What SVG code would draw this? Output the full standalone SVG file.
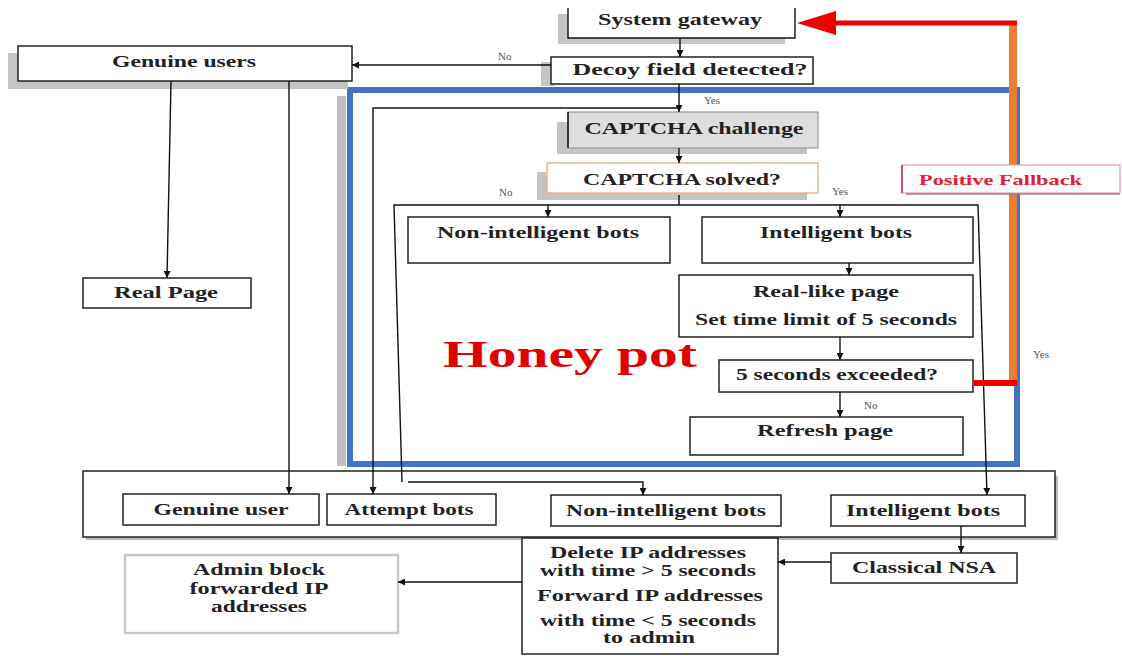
<svg xmlns="http://www.w3.org/2000/svg" width="1122" height="656" viewBox="0 0 1122 656">
<defs>
<style>
.box{fill:#fff;stroke:#222;stroke-width:1.5}
.sh{fill:#c4c4c4}
.t{font-family:"Liberation Serif",serif;font-weight:bold;font-size:16px;fill:#222;text-anchor:middle}
.s{font-family:"Liberation Serif",serif;font-size:11px;fill:#555}
.ln{fill:none;stroke:#111;stroke-width:1.4}
</style>
<marker id="ah" viewBox="0 0 10 10" refX="10" refY="5" markerWidth="7" markerHeight="7" orient="auto" markerUnits="userSpaceOnUse">
<path d="M0,0 L10,5 L0,10 z" fill="#111"/>
</marker>
</defs>
<rect width="1122" height="656" fill="#fff"/>

<!-- Honey pot frame -->
<g id="honeypot">
<rect x="337" y="96" width="9" height="370" fill="#c0c0c0"/>
<rect x="350" y="90" width="667" height="374" fill="none" stroke="#4472C4" stroke-width="6"/>
<text x="443" y="367" font-family="Liberation Serif,serif" font-weight="bold" font-size="38" fill="#e00000" textLength="254" lengthAdjust="spacingAndGlyphs">Honey pot</text>
</g>

<g id="container">
<rect x="86" y="476" width="972" height="64" fill="#bbb"/>
<rect x="83" y="471" width="972" height="66" class="box"/>
</g>

<g id="gateway">
<rect x="558" y="14" width="227" height="30" class="sh"/>
<rect x="568" y="8" width="227" height="30" fill="#fff"/>
<path d="M568,8 V38 H795 V8" class="ln" stroke-width="1.5"/>
<text class="t" x="680" y="25" textLength="164" lengthAdjust="spacingAndGlyphs">System gateway</text>
</g>

<g id="decoy">
<rect x="541" y="62" width="14" height="24" class="sh"/>
<rect x="551" y="57" width="262" height="27" class="box"/>
<text class="t" x="690" y="75" textLength="235" lengthAdjust="spacingAndGlyphs">Decoy field detected?</text>
</g>

<g id="genuine-users">
<rect x="8" y="53" width="340" height="36" class="sh"/>
<rect x="18" y="46" width="334" height="35" class="box"/>
<text class="t" x="184" y="67" textLength="144" lengthAdjust="spacingAndGlyphs">Genuine users</text>
</g>

<g id="captcha-challenge">
<rect x="557" y="122" width="250" height="32" class="sh"/>
<rect x="568" y="112" width="250" height="36" fill="#dedede" stroke="#999" stroke-width="1.2"/>
<line x1="568" y1="112" x2="568" y2="148" stroke="#111" stroke-width="1.5"/>
<text class="t" x="694" y="134" textLength="219" lengthAdjust="spacingAndGlyphs">CAPTCHA challenge</text>
</g>

<g id="captcha-solved">
<rect x="537" y="172" width="270" height="28" class="sh"/>
<rect x="547" y="163" width="271" height="30" fill="#fff" stroke="#f0a878" stroke-width="1.3"/>
<text class="t" x="682" y="185" textLength="198" lengthAdjust="spacingAndGlyphs">CAPTCHA solved?</text>
</g>

<g id="non-intelligent-top">
<rect x="408" y="217" width="262" height="46" class="box"/>
<text class="t" x="538" y="238" textLength="202" lengthAdjust="spacingAndGlyphs">Non-intelligent bots</text>
</g>

<g id="intelligent-top">
<rect x="702" y="217" width="271" height="46" class="box"/>
<text class="t" x="836" y="238" textLength="152" lengthAdjust="spacingAndGlyphs">Intelligent bots</text>
</g>

<g id="real-like">
<rect x="679" y="275" width="294" height="62" class="box"/>
<text class="t" x="826" y="297" textLength="146" lengthAdjust="spacingAndGlyphs">Real-like page</text>
<text class="t" x="826" y="325" textLength="262" lengthAdjust="spacingAndGlyphs">Set time limit of 5 seconds</text>
</g>

<g id="exceeded">
<rect x="719" y="360" width="254" height="32" class="box"/>
<text class="t" x="837" y="380" textLength="202" lengthAdjust="spacingAndGlyphs">5 seconds exceeded?</text>
</g>

<g id="refresh">
<rect x="690" y="417" width="273" height="38" class="box"/>
<text class="t" x="825" y="436" textLength="136" lengthAdjust="spacingAndGlyphs">Refresh page</text>
</g>

<g id="real-page">
<rect x="83" y="278" width="168" height="30" class="box"/>
<text class="t" x="166" y="298" textLength="104" lengthAdjust="spacingAndGlyphs">Real Page</text>
</g>

<g id="genuine-user">
<rect x="123" y="494" width="196" height="31" class="box"/>
<text class="t" x="221" y="515" textLength="135" lengthAdjust="spacingAndGlyphs">Genuine user</text>
</g>

<g id="attempt-bots">
<rect x="327" y="494" width="169" height="31" class="box"/>
<text class="t" x="409" y="515" textLength="129" lengthAdjust="spacingAndGlyphs">Attempt bots</text>
</g>

<g id="non-intelligent-bottom">
<rect x="551" y="495" width="230" height="31" class="box"/>
<text class="t" x="666" y="516" textLength="200" lengthAdjust="spacingAndGlyphs">Non-intelligent bots</text>
</g>

<g id="intelligent-bottom">
<rect x="831" y="495" width="194" height="31" class="box"/>
<text class="t" x="923" y="516" textLength="154" lengthAdjust="spacingAndGlyphs">Intelligent bots</text>
</g>

<g id="delete-forward">
<rect x="522" y="538" width="256" height="116" class="box"/>
<text class="t" x="648" y="558" textLength="196" lengthAdjust="spacingAndGlyphs">Delete IP addresses</text>
<text class="t" x="648" y="576" textLength="216" lengthAdjust="spacingAndGlyphs">with time &gt; 5 seconds</text>
<text class="t" x="650" y="601" textLength="226" lengthAdjust="spacingAndGlyphs">Forward IP addresses</text>
<text class="t" x="648" y="626" textLength="216" lengthAdjust="spacingAndGlyphs">with time &lt; 5 seconds</text>
<text class="t" x="649" y="643" textLength="92" lengthAdjust="spacingAndGlyphs">to admin</text>
</g>

<g id="classical-nsa">
<rect x="831" y="553" width="186" height="30" class="box"/>
<text class="t" x="924" y="573" textLength="144" lengthAdjust="spacingAndGlyphs">Classical NSA</text>
</g>

<g id="admin-block">
<rect x="125" y="555" width="273" height="78" fill="#fff" stroke="#c8c8c8" stroke-width="2.5"/>
<text class="t" x="259" y="575" font-size="15" textLength="132" lengthAdjust="spacingAndGlyphs">Admin block</text>
<text class="t" x="259" y="594" font-size="15" textLength="139" lengthAdjust="spacingAndGlyphs">forwarded IP</text>
<text class="t" x="259" y="612" font-size="15" textLength="96" lengthAdjust="spacingAndGlyphs">addresses</text>
</g>

<g id="connectors">
<line x1="680" y1="38" x2="680" y2="57" class="ln" marker-end="url(#ah)"/>
<line x1="551" y1="65" x2="352" y2="65" class="ln" marker-end="url(#ah)"/>
<line x1="679" y1="84" x2="679" y2="112" class="ln" marker-end="url(#ah)"/>
<polyline points="679,108 373,108 373,494" class="ln" marker-end="url(#ah)"/>
<line x1="679" y1="148" x2="679" y2="163" class="ln" marker-end="url(#ah)"/>
<line x1="679" y1="195" x2="679" y2="205" class="ln"/>
<polyline points="402,482 394,205 978,205 987,495" class="ln" marker-end="url(#ah)"/>
<polyline points="408,482 643,482 643,495" class="ln" marker-end="url(#ah)"/>
<line x1="548" y1="205" x2="548" y2="217" class="ln" marker-end="url(#ah)"/>
<line x1="840" y1="205" x2="840" y2="217" class="ln" marker-end="url(#ah)"/>
<line x1="849" y1="263" x2="849" y2="275" class="ln" marker-end="url(#ah)"/>
<line x1="840" y1="337" x2="840" y2="360" class="ln" marker-end="url(#ah)"/>
<line x1="840" y1="392" x2="840" y2="417" class="ln" marker-end="url(#ah)"/>
<line x1="171" y1="81" x2="167" y2="278" class="ln" marker-end="url(#ah)"/>
<line x1="289" y1="81" x2="289" y2="494" class="ln" marker-end="url(#ah)"/>
<line x1="961" y1="526" x2="961" y2="553" class="ln" marker-end="url(#ah)"/>
<line x1="831" y1="562" x2="778" y2="562" class="ln" marker-end="url(#ah)"/>
<line x1="522" y1="582" x2="398" y2="582" class="ln" marker-end="url(#ah)"/>
<!-- positive fallback loop -->
<line x1="1013" y1="386" x2="1013" y2="22" stroke="#ED7D31" stroke-width="8"/>
<line x1="974" y1="383" x2="1017" y2="383" stroke="#ee0000" stroke-width="6"/>
<line x1="1017" y1="23" x2="830" y2="23" stroke="#ee0000" stroke-width="5"/>
<path d="M797,23 L836,11 L836,35 z" fill="#ee0000"/>
</g>

<g id="positive-fallback">
<rect x="902" y="165" width="218" height="28" fill="#fff" stroke="#eaa0aa" stroke-width="1.3"/>
<line x1="902" y1="165" x2="902" y2="193" stroke="#b03050" stroke-width="1.5"/>
<line x1="906" y1="194" x2="1120" y2="194" stroke="#888" stroke-width="1.5"/>
<text x="919" y="185" font-family="Liberation Serif,serif" font-weight="bold" font-size="15" fill="#e02030" textLength="163" lengthAdjust="spacingAndGlyphs">Positive Fallback</text>
</g>

<g id="labels">
<text class="s" x="498" y="60">No</text>
<text class="s" x="704" y="104">Yes</text>
<text class="s" x="499" y="196">No</text>
<text class="s" x="832" y="195">Yes</text>
<text class="s" x="864" y="409">No</text>
<text class="s" x="1033" y="358">Yes</text>
</g>
</svg>
